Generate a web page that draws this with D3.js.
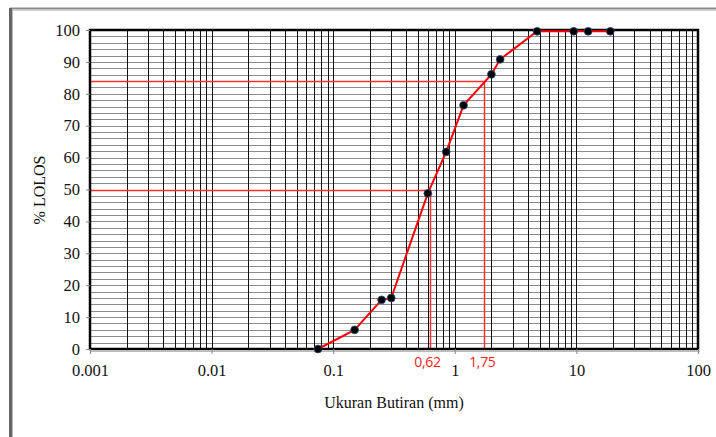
<!DOCTYPE html>
<html>
<head>
<meta charset="utf-8">
<script src="https://cdn.jsdelivr.net/npm/d3@7"></script>
<style>
  html, body { margin: 0; padding: 0; background: #fff; }
  svg { display: block; }
</style>
</head>
<body>
<svg id="chart" width="716" height="437"></svg>
<script>
// ---- data ----
const sieveSizes = [0.075, 0.15, 0.25, 0.30, 0.60, 0.85, 1.18, 2.0, 2.36, 4.75, 9.5, 12.5, 19];
const percentPassing = [0, 6, 15.4, 16, 48.8, 61.8, 76.4, 86.1, 90.8, 99.6, 99.6, 99.6, 99.6];
const xTickValues = [0.001, 0.01, 0.1, 1, 10, 100];
const xTickLabels = ["0.001", "0.01", "0.1", "1", "10", "100"];
const yTickValues = [0, 10, 20, 30, 40, 50, 60, 70, 80, 90, 100];
const refPercents = [50, 84];
const refSizes = [0.62, 1.75];
const refLabels = ["0,62", "1,75"];

// ---- layout ----
const svg = d3.select("#chart");
const pL = 90, pR = 698, pT = 30, pB = 349;

const x = d3.scaleLog().domain([0.001, 100]).range([pL, pR]);
const y = d3.scaleLinear().domain([0, 100]).range([pB, pT]);

// outer frame
svg.append("line").attr("x1", 10).attr("x2", 716).attr("y1", 8.5).attr("y2", 8.5)
  .attr("stroke", "#8a8a8a").attr("stroke-width", 2);
svg.append("line").attr("x1", 10).attr("x2", 716).attr("y1", 10.5).attr("y2", 10.5)
  .attr("stroke", "#cfcfcf").attr("stroke-width", 1);
svg.append("line").attr("x1", 10.5).attr("x2", 10.5).attr("y1", 8).attr("y2", 437)
  .attr("stroke", "#666").attr("stroke-width", 3);
svg.append("line").attr("x1", 12.5).attr("x2", 12.5).attr("y1", 9).attr("y2", 437)
  .attr("stroke", "#bbb").attr("stroke-width", 1);

// horizontal grid (every 2 %)
const hGrid = d3.range(2, 100, 2);
svg.append("g").selectAll("line").data(hGrid).join("line")
  .attr("x1", pL).attr("x2", pR)
  .attr("y1", d => Math.round(y(d)) + 0.5).attr("y2", d => Math.round(y(d)) + 0.5)
  .attr("stroke", "#8c8c8c").attr("stroke-width", 1.2);

// vertical grid (log minor)
const vGrid = [];
for (let e = -3; e < 2; e++) for (let m = 1; m <= 9; m++) vGrid.push(m * Math.pow(10, e));
svg.append("g").selectAll("line").data(vGrid.filter(d => d > 0.001)).join("line")
  .attr("x1", d => Math.round(x(d)) + 0.5).attr("x2", d => Math.round(x(d)) + 0.5)
  .attr("y1", pT).attr("y2", pB)
  .attr("stroke", "#111").attr("stroke-width", 1);

// reference lines
const refG = svg.append("g").attr("stroke", "#ff3030").attr("stroke-width", 1.5);
refPercents.forEach((p, i) => {
  const yy = Math.round(y(p)) + 0.5;
  const xx = Math.round(x(refSizes[i])) + 0.5;
  refG.append("line").attr("x1", pL).attr("x2", xx).attr("y1", yy).attr("y2", yy);
  refG.append("line").attr("x1", xx).attr("x2", xx).attr("y1", yy).attr("y2", pB);
});

// plot border
svg.append("rect").attr("x", pL).attr("y", pT).attr("width", pR - pL).attr("height", pB - pT)
  .attr("fill", "none").attr("stroke", "#000").attr("stroke-width", 2.5);
svg.append("line").attr("x1", pL).attr("x2", pR + 2).attr("y1", pB + 2.5).attr("y2", pB + 2.5)
  .attr("stroke", "#bbb").attr("stroke-width", 1);

// axes
const yAxis = d3.axisLeft(y).tickValues(yTickValues).tickSize(4).tickPadding(6);
const gy = svg.append("g").attr("transform", `translate(${pL},0)`).call(yAxis);
gy.select(".domain").remove();
gy.selectAll(".tick line").attr("stroke", "#888");
gy.selectAll(".tick text").attr("font-family", "'Liberation Serif', 'Times New Roman', serif")
  .attr("font-size", 16.5).attr("fill", "#111");

const xAxis = d3.axisBottom(x).tickValues(xTickValues).tickFormat((d, i) => xTickLabels[i])
  .tickSize(5).tickPadding(10);
const gx = svg.append("g").attr("transform", `translate(0,${pB})`).call(xAxis);
gx.select(".domain").remove();
gx.selectAll(".tick line").attr("stroke", "#888");
gx.selectAll(".tick text").attr("font-family", "'Liberation Serif', 'Times New Roman', serif")
  .attr("font-size", 16.5).attr("fill", "#111");

// reference labels
svg.append("g").selectAll("text").data(refSizes).join("text")
  .attr("x", d => x(d) - 2).attr("y", 367)
  .attr("text-anchor", "middle")
  .attr("font-family", "'Open Sans', 'Noto Sans', sans-serif")
  .attr("font-size", 14).attr("fill", "#ff2020")
  .attr("letter-spacing", -0.3)
  .text((d, i) => refLabels[i]);

// data line
const line = d3.line().x((d, i) => x(sieveSizes[i])).y(d => y(d));
svg.append("path").datum(percentPassing).attr("d", line)
  .attr("fill", "none").attr("stroke", "#ff0000").attr("stroke-width", 2);

svg.append("g").selectAll("circle").data(percentPassing).join("circle")
  .attr("cx", (d, i) => x(sieveSizes[i])).attr("cy", d => y(d)).attr("r", 3.9)
  .attr("fill", "#000").attr("stroke", "#2f4f7f").attr("stroke-width", 0.8);

// titles
svg.append("text").attr("transform", "translate(45,190) rotate(-90)")
  .attr("text-anchor", "middle")
  .attr("font-family", "'Liberation Serif', 'Times New Roman', serif")
  .attr("font-size", 16).attr("fill", "#111").text("% LOLOS");
svg.append("text").attr("x", 394).attr("y", 408)
  .attr("text-anchor", "middle")
  .attr("font-family", "'Liberation Serif', 'Times New Roman', serif")
  .attr("font-size", 16).attr("fill", "#111").text("Ukuran Butiran (mm)");
</script>
</body>
</html>
